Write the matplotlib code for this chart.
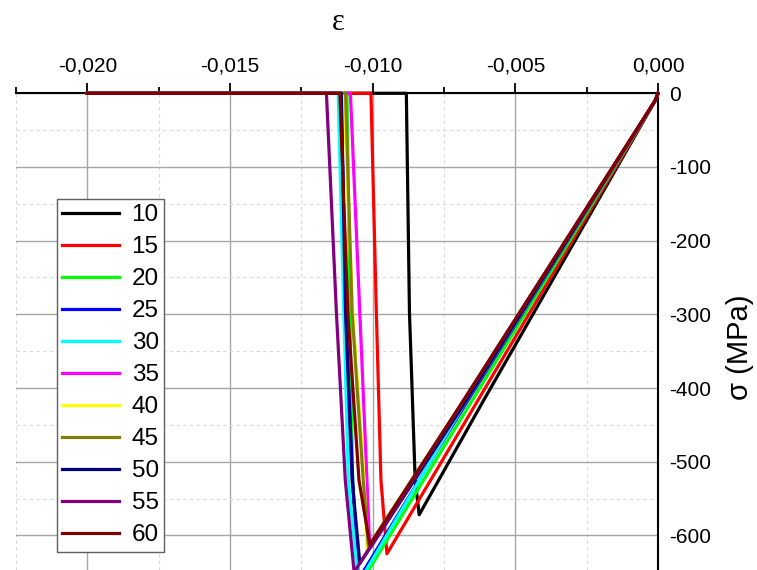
import matplotlib.pyplot as plt
from matplotlib.ticker import MultipleLocator, FuncFormatter

plt.rcParams["font.family"] = ["Liberation Sans", "DejaVu Sans"]
plt.rcParams["axes.unicode_minus"] = False

# series labels and colours (legend order)
labels = ["10", "15", "20", "25", "30", "35", "40", "45", "50", "55", "60"]
colors = ["#000000", "#ff0000", "#00ff00", "#0000ff", "#00ffff", "#ff00ff",
          "#ffff00", "#808000", "#000080", "#800080", "#800000"]

# key points (strain, stress in MPa)
load_strain_416 = [-0.0061, -0.0063, -0.0065, -0.00665, -0.0067, -0.0067,
                   -0.0067, -0.0068, -0.0067, -0.0068, -0.0068]
peak_strain = [-0.00837, -0.0095, -0.0105, -0.0105, -0.0105, -0.0101,
               -0.0102, -0.01015, -0.01045, -0.01065, -0.0101]
peak_stress = [-572, -625, -670, -660, -665, -618, -622, -615, -638, -650, -613]
unload_strain_525 = [-0.00851, -0.00971, -0.0107, -0.0107, -0.01085, -0.0102,
                     -0.0103, -0.01033, -0.01072, -0.01096, -0.01048]
unload_strain_298 = [-0.00871, -0.00987, -0.0108, -0.01095, -0.01101, -0.01045,
                     -0.0107, -0.01072, -0.01095, -0.01127, -0.01087]
break_strain = [-0.00882, -0.01006, -0.0109, -0.0111, -0.01121, -0.01078,
                -0.01101, -0.01095, -0.0111, -0.01162, -0.01115]
tail_strain = -0.020

fig = plt.figure(figsize=(7.57, 5.70), dpi=100)
ax = fig.add_axes([16 / 757, 0, 642 / 757, 476.7 / 570])

for i in range(len(labels)):
    eps = [0.0, -0.0001, load_strain_416[i], peak_strain[i],
           unload_strain_525[i], unload_strain_298[i], break_strain[i], tail_strain]
    sig = [0, -10, -416, peak_stress[i], -525, -298, 0, 0]
    ax.plot(eps, sig, color=colors[i], lw=2.3, label=labels[i],
            solid_joinstyle="round", clip_on=False, zorder=3)

ax.set_xlim(-0.0225, 0.0)
ax.set_ylim(-647, 0)

ax.xaxis.tick_top()
ax.yaxis.tick_right()
for side in ["left", "bottom"]:
    ax.spines[side].set_visible(False)
for side in ["top", "right"]:
    ax.spines[side].set_linewidth(1.5)
    ax.spines[side].set_zorder(2.5)

ax.xaxis.set_major_locator(MultipleLocator(0.005))
ax.xaxis.set_minor_locator(MultipleLocator(0.0025))
ax.yaxis.set_major_locator(MultipleLocator(100))
ax.yaxis.set_minor_locator(MultipleLocator(50))


def comma_fmt(v, pos):
    if abs(v) < 1e-12:
        v = 0.0
    return f"{v:.3f}".replace(".", ",")


ax.xaxis.set_major_formatter(FuncFormatter(comma_fmt))
ax.yaxis.set_major_formatter(FuncFormatter(lambda v, p: f"{int(round(v))}"))

ax.grid(which="major", color="#a6a6a6", lw=1.0)
ax.grid(which="minor", color="#d9d9d9", lw=0.8, ls=(0, (3, 3)))
ax.set_axisbelow(True)

ax.tick_params(axis="x", which="major", direction="out", length=7, width=1.3,
               labelsize=15, pad=6)
ax.tick_params(axis="x", which="minor", direction="out", length=4, width=1.3)
ax.tick_params(axis="y", which="both", length=0, pad=8, labelsize=15)

fig.text(338 / 757, 1 - 22 / 570, "ε", ha="center", va="center", fontsize=22,
         family=["Liberation Serif", "DejaVu Serif"])
fig.text(740 / 757, 1 - 347 / 570, "σ (MPa)", rotation=90, ha="center",
         va="center", fontsize=21)

leg = ax.legend(loc="upper left", bbox_to_anchor=(57 / 757, 1 - 199 / 570),
                bbox_transform=fig.transFigure, fontsize=17.5, handlelength=2.35,
                handletextpad=0.5, borderpad=0.22, labelspacing=0.41,
                fancybox=False, edgecolor="#606060", framealpha=1,
                borderaxespad=0)
leg.get_frame().set_linewidth(1.0)
leg.set_zorder(5)

fig.savefig("out.png", dpi=100)
